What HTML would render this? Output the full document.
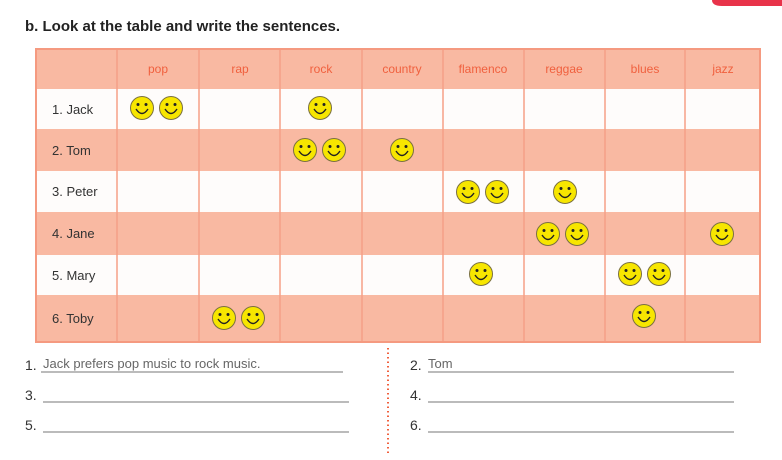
<!DOCTYPE html>
<html><head><meta charset="utf-8"><style>
html,body{margin:0;padding:0;background:#fff;}
svg{display:block;font-family:"Liberation Sans",sans-serif;}
</style></head><body>
<svg width="782" height="460" viewBox="0 0 782 460" xmlns="http://www.w3.org/2000/svg">
<defs>
<g id="s">
<circle r="11.5" fill="#f7e600" stroke="#7a7040" stroke-width="1"/>
<circle cx="-4" cy="-3.5" r="1.5" fill="#222"/>
<circle cx="4" cy="-3.5" r="1.5" fill="#222"/>
<path d="M-6,1 Q0,10 6,1" fill="none" stroke="#222" stroke-width="1.4"/>
</g>
</defs>
<path d="M712,0 H782 V6 H722 Q712,6 712,0Z" fill="#e8334a"/>
<text x="25" y="31" font-size="15" font-weight="bold" fill="#222">b. Look at the table and write the sentences.</text>
<!-- rows -->
<rect x="36" y="49" width="724" height="40" fill="#f9b9a2"/>
<rect x="36" y="89" width="724" height="40" fill="#fefcfb"/>
<rect x="36" y="129" width="724" height="42" fill="#f9b9a2"/>
<rect x="36" y="171" width="724" height="41" fill="#fefcfb"/>
<rect x="36" y="212" width="724" height="43" fill="#f9b9a2"/>
<rect x="36" y="255" width="724" height="40" fill="#fefcfb"/>
<rect x="36" y="295" width="724" height="47" fill="#f9b9a2"/>
<g stroke="#f5a087" stroke-width="1.5">
<line x1="117" y1="49" x2="117" y2="342"/><line x1="199" y1="49" x2="199" y2="342"/>
<line x1="280" y1="49" x2="280" y2="342"/><line x1="362" y1="49" x2="362" y2="342"/>
<line x1="443" y1="49" x2="443" y2="342"/><line x1="524" y1="49" x2="524" y2="342"/>
<line x1="605" y1="49" x2="605" y2="342"/><line x1="685" y1="49" x2="685" y2="342"/>
</g>
<rect x="36" y="49" width="724" height="293" fill="none" stroke="#f59a80" stroke-width="2"/>
<g font-size="12" fill="#f0603e" text-anchor="middle">
<text x="158" y="73">pop</text><text x="240" y="73">rap</text><text x="321" y="73">rock</text>
<text x="402" y="73">country</text><text x="483" y="73">flamenco</text><text x="564" y="73">reggae</text>
<text x="645" y="73">blues</text><text x="723" y="73">jazz</text>
</g>
<g font-size="13" fill="#333">
<text x="52" y="114">1. Jack</text><text x="52" y="155">2. Tom</text>
<text x="52" y="196">3. Peter</text><text x="52" y="238">4. Jane</text>
<text x="52" y="280">5. Mary</text><text x="52" y="323">6. Toby</text>
</g>
<use href="#s" x="142" y="108"/><use href="#s" x="171" y="108"/><use href="#s" x="320" y="108"/>
<use href="#s" x="305" y="150"/><use href="#s" x="334" y="150"/><use href="#s" x="402" y="150"/>
<use href="#s" x="468" y="192"/><use href="#s" x="497" y="192"/><use href="#s" x="565" y="192"/>
<use href="#s" x="548" y="234"/><use href="#s" x="577" y="234"/><use href="#s" x="722" y="234"/>
<use href="#s" x="481" y="274"/><use href="#s" x="630" y="274"/><use href="#s" x="659" y="274"/>
<use href="#s" x="224" y="318"/><use href="#s" x="253" y="318"/><use href="#s" x="644" y="316"/>
<line x1="388" y1="348" x2="388" y2="455" stroke="#f0603e" stroke-width="2" stroke-dasharray="1.5,3"/>
<g font-size="14" fill="#333">
<text x="25" y="370">1.</text><text x="410" y="370">2.</text>
<text x="25" y="400">3.</text><text x="410" y="400">4.</text>
<text x="25" y="430">5.</text><text x="410" y="430">6.</text>
</g>
<text x="43" y="368" font-size="13" fill="#666">Jack prefers pop music to rock music.</text>
<text x="428" y="368" font-size="13" fill="#666">Tom</text>
<g stroke="#777" stroke-width="1">
<line x1="41" y1="372" x2="343" y2="372"/><line x1="428" y1="372" x2="734" y2="372"/>
<line x1="43" y1="402" x2="349" y2="402"/><line x1="428" y1="402" x2="734" y2="402"/>
<line x1="43" y1="432" x2="349" y2="432"/><line x1="428" y1="432" x2="734" y2="432"/>
</g>
</svg>
</body></html>
